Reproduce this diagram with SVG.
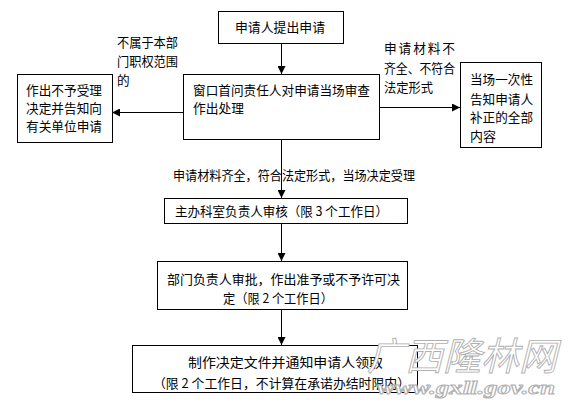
<svg xmlns="http://www.w3.org/2000/svg" width="577" height="413" viewBox="0 0 577 413">
<style>
.box{fill:#fff;stroke:#000;stroke-width:1;shape-rendering:crispEdges}
.t{font-family:"Noto Sans CJK SC","Liberation Sans",sans-serif;font-size:12.7px;fill:#000}
.ln{stroke:#000;stroke-width:1;fill:none;shape-rendering:crispEdges}
.wm{font-family:"Liberation Serif","Noto Sans CJK SC",serif;font-style:italic;fill:#fff;stroke:#b0b0b0;stroke-width:0.9}
</style>
<defs>
<marker id="ah" markerUnits="userSpaceOnUse" markerWidth="8" markerHeight="8" refX="8" refY="4" orient="auto">
<path d="M0,0 L8,4 L0,8 z" fill="#000"/>
</marker>
</defs>
<rect width="577" height="413" fill="#fff"/>
<g id="connectors">
<line class="ln" x1="281.5" y1="43" x2="281.5" y2="74" marker-end="url(#ah)"/>
<line class="ln" x1="183" y1="112.5" x2="112" y2="112.5" marker-end="url(#ah)"/>
<line class="ln" x1="379" y1="107.5" x2="460" y2="107.5" marker-end="url(#ah)"/>
<line class="ln" x1="281.5" y1="139" x2="281.5" y2="198" marker-end="url(#ah)"/>
<line class="ln" x1="281.5" y1="223" x2="281.5" y2="261" marker-end="url(#ah)"/>
<line class="ln" x1="281.5" y1="309" x2="281.5" y2="345" marker-end="url(#ah)"/>
<text class="t" x="117" y="46.5" textLength="61" lengthAdjust="spacingAndGlyphs">不属于本部</text>
<text class="t" x="117" y="66" textLength="61" lengthAdjust="spacingAndGlyphs">门职权范围</text>
<text class="t" x="117" y="84.5">的</text>
<text class="t" x="384" y="52.5" textLength="71" lengthAdjust="spacing">申请材料不</text>
<text class="t" x="384" y="72.5" textLength="71" lengthAdjust="spacingAndGlyphs">齐全、不符合</text>
<text class="t" x="384" y="91.5" textLength="49" lengthAdjust="spacingAndGlyphs">法定形式</text>
<text class="t" x="173" y="179.5" textLength="242" lengthAdjust="spacingAndGlyphs">申请材料齐全，符合法定形式，当场决定受理</text>
</g>
<g id="n1">
<rect class="box" x="218.5" y="11.5" width="125" height="32"/>
<text class="t" x="235" y="31.5" textLength="90" lengthAdjust="spacingAndGlyphs">申请人提出申请</text>
</g>
<g id="n2">
<rect class="box" x="183.5" y="74.5" width="196" height="65"/>
<text class="t" x="193" y="94.5" textLength="177" lengthAdjust="spacingAndGlyphs">窗口首问责任人对申请当场审查</text>
<text class="t" x="193" y="112.5" textLength="51" lengthAdjust="spacingAndGlyphs">作出处理</text>
</g>
<g id="n3">
<rect class="box" x="17.5" y="74.5" width="95" height="68"/>
<text class="t" x="26" y="95" textLength="76" lengthAdjust="spacingAndGlyphs">作出不予受理</text>
<text class="t" x="26" y="113" textLength="76" lengthAdjust="spacingAndGlyphs">决定并告知向</text>
<text class="t" x="26" y="131" textLength="76" lengthAdjust="spacingAndGlyphs">有关单位申请</text>
</g>
<g id="n4">
<rect class="box" x="460.5" y="62.5" width="81" height="85"/>
<text class="t" x="470" y="83.5" textLength="63" lengthAdjust="spacingAndGlyphs">当场一次性</text>
<text class="t" x="470" y="103.5" textLength="63" lengthAdjust="spacingAndGlyphs">告知申请人</text>
<text class="t" x="470" y="121.5" textLength="63" lengthAdjust="spacingAndGlyphs">补正的全部</text>
<text class="t" x="470" y="140.5" textLength="26" lengthAdjust="spacingAndGlyphs">内容</text>
</g>
<g id="n5">
<rect class="box" x="164.5" y="198.5" width="243" height="25"/>
<text class="t" x="175" y="216" textLength="213" lengthAdjust="spacingAndGlyphs">主办科室负责人审核（限 3 个工作日）</text>
</g>
<g id="n6">
<rect class="box" x="157.5" y="261.5" width="250" height="48"/>
<text class="t" x="167" y="283.5" textLength="233" lengthAdjust="spacingAndGlyphs">部门负责人审批，作出准予或不予许可决</text>
<text class="t" x="223" y="302.5" textLength="110" lengthAdjust="spacingAndGlyphs">定（限 2 个工作日）</text>
</g>
<g id="n7">
<rect class="box" x="132.5" y="345.5" width="285" height="47"/>
<text class="t" x="188" y="366.5" textLength="195" lengthAdjust="spacingAndGlyphs">制作决定文件并通知申请人领取</text>
<text class="t" x="153" y="387.5" textLength="257" lengthAdjust="spacingAndGlyphs">（限 2 个工作日，不计算在承诺办结时限内）</text>
</g>
<g id="watermark">
<text class="wm" x="367" y="370" font-size="38" textLength="190" lengthAdjust="spacingAndGlyphs">广西隆林网</text>
<text class="wm" x="377" y="394" font-size="18" font-weight="bold" textLength="178" lengthAdjust="spacingAndGlyphs">www.gxll.gov.cn</text>
</g>
</svg>
